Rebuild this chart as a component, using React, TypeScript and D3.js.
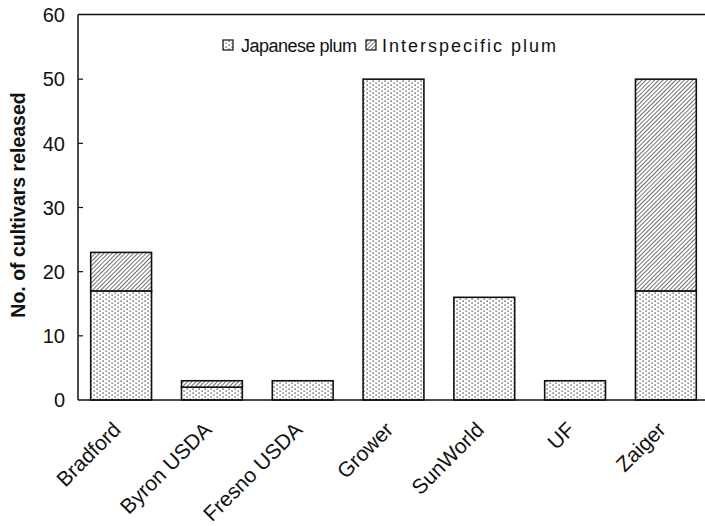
import React from "react";
import * as d3 from "d3";

const categories = ["Bradford", "Byron USDA", "Fresno USDA", "Grower", "SunWorld", "UF", "Zaiger"];
const japanesePlum = [17, 2, 3, 50, 16, 3, 17];
const interspecificPlum = [6, 1, 0, 0, 0, 0, 33];
const yTicks = [0, 10, 20, 30, 40, 50, 60];
const seriesNames = ["Japanese plum", "Interspecific plum"];

const W = 705;
const H = 526;
const left = 78;
const top = 15;
const bottom = 400;

export default function App() {
  const x = d3.scaleBand<string>().domain(categories).range([left, 709]).paddingInner(0.33).paddingOuter(0.14);
  const y = d3.scaleLinear().domain([0, 60]).range([bottom, top]);
  const stack = categories.map((c, i) => ({ c, j: japanesePlum[i], s: interspecificPlum[i] }));
  const font = "Arial, 'Liberation Sans', Helvetica, sans-serif";
  const fills = ["url(#dots)", "url(#hatch)"];
  return (
    <svg width={W} height={H} style={{ position: "absolute", left: 0, top: 0, background: "#fff" }} fontFamily={font}>
      <defs>
        <pattern id="dots" width="6" height="4" patternUnits="userSpaceOnUse">
          <rect width="6" height="4" fill="#fff" />
          <rect x="0.5" y="0.5" width="1.2" height="1.2" fill="#222" />
          <rect x="3.5" y="2.5" width="1.2" height="1.2" fill="#333" />
        </pattern>
        <pattern id="hatch" width="3" height="3" patternUnits="userSpaceOnUse" patternTransform="rotate(45)">
          <rect width="3" height="3" fill="#fff" />
          <line x1="0" y1="0" x2="0" y2="3" stroke="#333" strokeWidth="1.4" />
        </pattern>
      </defs>
      {stack.map((d) => (
        <g key={d.c}>
          <rect x={x(d.c)} y={y(d.j)} width={x.bandwidth()} height={y(0) - y(d.j)} fill={fills[0]} stroke="#111" strokeWidth={1.6} />
          {d.s > 0 && (
            <rect x={x(d.c)} y={y(d.j + d.s)} width={x.bandwidth()} height={y(d.j) - y(d.j + d.s)} fill={fills[1]} stroke="#111" strokeWidth={1.6} />
          )}
        </g>
      ))}
      <line x1={left} x2={left} y1={14.5} y2={bottom} stroke="#111" strokeWidth={1.5} />
      <line x1={left} x2={W} y1={14.5} y2={14.5} stroke="#111" strokeWidth={1.5} />
      <line x1={left} x2={W} y1={bottom} y2={bottom} stroke="#111" strokeWidth={1.5} />
      {yTicks.map((t) => (
        <g key={t}>
          {t > 0 && t < 60 && <line x1={left} x2={left + 5} y1={y(t)} y2={y(t)} stroke="#111" strokeWidth={1.2} />}
          <text x={65} y={y(t)} dy="0.36em" textAnchor="end" fontSize={20} fill="#111">{t}</text>
        </g>
      ))}
      <text transform={`translate(25,205) rotate(-90)`} textAnchor="middle" fontSize={19.5} fontWeight="bold" fill="#111">No. of cultivars released</text>
      {categories.map((c) => (
        <text key={c} transform={`translate(${(x(c) as number) + x.bandwidth() / 2 + 1},${431}) rotate(-45)`} textAnchor="end" fontSize={21} fill="#111">{c}</text>
      ))}
      <g>
        <rect x={223} y={40} width={10} height={10} fill={fills[0]} stroke="#111" strokeWidth={1.2} />
        <text x={241} y={51.5} fontSize={18} fill="#111" textLength={116} lengthAdjust="spacing">{seriesNames[0]}</text>
        <rect x={366} y={40} width={10} height={10} fill={fills[1]} stroke="#111" strokeWidth={1.2} />
        <text x={382} y={51.5} fontSize={18} fill="#111" textLength={174} lengthAdjust="spacing">{seriesNames[1]}</text>
      </g>
    </svg>
  );
}
